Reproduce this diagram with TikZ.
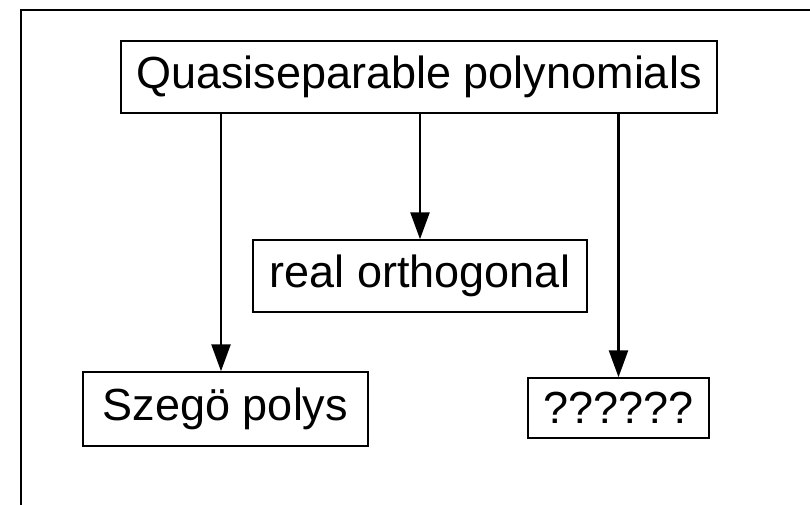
\documentclass[tikz,border=0pt]{standalone}
\usepackage{fontspec}
\setmainfont{Liberation Sans}
\usetikzlibrary{arrows.meta}
\tikzset{
  box/.style={draw, line width=1.5pt, inner sep=0pt, font=\fontsize{45}{54}\selectfont},
  arr/.style={line width=2.6pt, -{Triangle[length=27pt,width=19pt]}}
}
\begin{document}
\begin{tikzpicture}[x=1pt,y=-1pt]
  \useasboundingbox (0,0) rectangle (810,504);
  % open frame: only the left and top edges fall inside the page
  \draw[line width=1.6pt] (21,520) -- (21,10) -- (830,10);
  \node[box, minimum width=596pt, minimum height=72pt] (q) at (419,77) {Quasiseparable polynomials};
  \node[box, minimum width=334pt, minimum height=72pt] (r) at (420,276) {real orthogonal};
  \node[box, minimum width=285pt, minimum height=74pt] (s) at (225.5,409) {Szegö polys};
  \node[box, minimum width=181pt, minimum height=60pt] (u) at (618.5,408) {??????};
  \draw[arr] (q.south -| 221,0) -- (s.north -| 221,0);
  \draw[arr] (q.south -| r.north) -- (r.north);
  \draw[arr] (q.south -| u.north) -- (u.north);
\end{tikzpicture}
\end{document}
